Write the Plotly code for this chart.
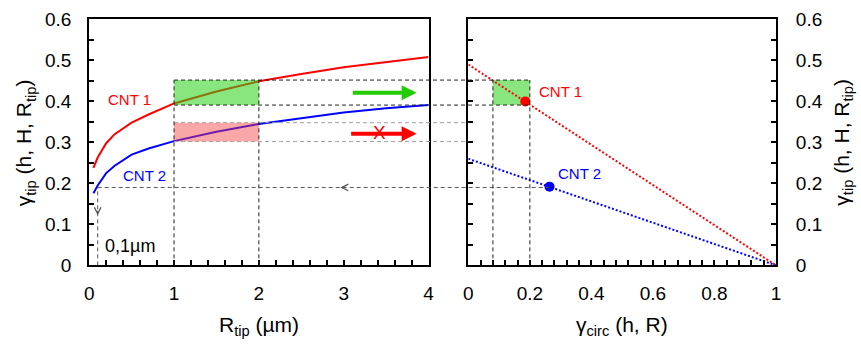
import plotly.graph_objects as go

# ---------------- data ----------------
r_tip = [0.05, 0.1, 0.2, 0.3, 0.5, 0.7, 1.0, 1.5, 2.0, 2.5, 3.0, 3.5, 4.0]
gamma_tip_cnt1 = [0.238, 0.263, 0.298, 0.320, 0.348, 0.368, 0.395, 0.424, 0.449, 0.467, 0.483, 0.496, 0.508]
gamma_tip_cnt2 = [0.176, 0.195, 0.225, 0.243, 0.270, 0.285, 0.303, 0.326, 0.345, 0.359, 0.373, 0.383, 0.391]

gamma_circ = [0.0, 1.0]
line_cnt1 = [0.49, 0.0]
line_cnt2 = [0.26, 0.0]

point_cnt1 = (0.185, 0.40)
point_cnt2 = (0.264, 0.192)

r_window = [1.0, 2.0]           # R_tip window (µm)
g_window_cnt1 = [0.391, 0.452]  # gamma_tip range CNT 1
g_window_cnt2 = [0.302, 0.348]  # gamma_tip range CNT 2
circ_window = [0.08, 0.20]      # gamma_circ window
r_small = 0.1
g_small = 0.19

x_ticks_left = [0, 1, 2, 3, 4]
x_ticks_right = [0, 0.2, 0.4, 0.6, 0.8, 1]
y_ticks = [0, 0.1, 0.2, 0.3, 0.4, 0.5, 0.6]

# ---------------- layout geometry ----------------
W, H = 861, 349
XD1 = [85.3 / W, 429.0 / W]
XD2 = [469.3 / W, 781.0 / W]
YD = [77.3 / H, 339.0 / H]
XR1 = [0, 4]
XR2 = [0, 1]
YR = [0, 0.6]

def px1(x):
    return XD1[0] + (x - XR1[0]) / (XR1[1] - XR1[0]) * (XD1[1] - XD1[0])

def px2(x):
    return XD2[0] + (x - XR2[0]) / (XR2[1] - XR2[0]) * (XD2[1] - XD2[0])

FONT = "Liberation Sans, Arial, sans-serif"
RED = "#ff0000"
BLUE = "#0000ff"

fig = go.Figure()

# curves
fig.add_trace(go.Scatter(x=r_tip, y=gamma_tip_cnt1, mode="lines",
                         line=dict(color=RED, width=2), xaxis="x", yaxis="y"))
fig.add_trace(go.Scatter(x=r_tip, y=gamma_tip_cnt2, mode="lines",
                         line=dict(color=BLUE, width=2), xaxis="x", yaxis="y"))
fig.add_trace(go.Scatter(x=gamma_circ, y=line_cnt1, mode="lines",
                         line=dict(color=RED, width=2, dash="2px,2px"), xaxis="x2", yaxis="y2"))
fig.add_trace(go.Scatter(x=gamma_circ, y=line_cnt2, mode="lines",
                         line=dict(color=BLUE, width=2, dash="2px,2px"), xaxis="x2", yaxis="y2"))
fig.add_trace(go.Scatter(x=[point_cnt1[0]], y=[point_cnt1[1]], mode="markers",
                         marker=dict(color=RED, size=10), xaxis="x2", yaxis="y2"))
fig.add_trace(go.Scatter(x=[point_cnt2[0]], y=[point_cnt2[1]], mode="markers",
                         marker=dict(color=BLUE, size=10), xaxis="x2", yaxis="y2"))

shapes = []
DASH = "4px,3px"
BLK = "#222222"
GRY = "#a0a0a0"
DGRY = "#555555"

# filled windows (drawn on top, semi-transparent)
shapes.append(dict(type="rect", xref="x", yref="y", x0=r_window[0], x1=r_window[1],
                   y0=g_window_cnt1[0], y1=g_window_cnt1[1],
                   fillcolor="rgba(40,210,20,0.55)", line=dict(width=0), layer="above"))
shapes.append(dict(type="rect", xref="x", yref="y", x0=r_window[0], x1=r_window[1],
                   y0=g_window_cnt2[0], y1=g_window_cnt2[1],
                   fillcolor="rgba(245,60,60,0.45)", line=dict(width=0), layer="above"))
shapes.append(dict(type="rect", xref="x2", yref="y2", x0=circ_window[0], x1=circ_window[1],
                   y0=g_window_cnt1[0], y1=g_window_cnt1[1],
                   fillcolor="rgba(40,210,20,0.55)", line=dict(width=0), layer="below"))

def hline(xa, xb, y, color):
    shapes.append(dict(type="line", xref="paper", yref="y", x0=xa, x1=xb, y0=y, y1=y,
                       line=dict(color=color, width=1, dash=DASH), layer="above"))

def vline(xref, x, ya, yb, color):
    shapes.append(dict(type="line", xref=xref, yref="y", x0=x, x1=x, y0=ya, y1=yb,
                       line=dict(color=color, width=1, dash=DASH), layer="above"))

# horizontal guides spanning both panels
for g in g_window_cnt1:
    hline(px1(r_window[0]), px2(circ_window[1]), g, BLK)
for g in g_window_cnt2:
    hline(px1(r_window[0]), px2(0), g, GRY)
hline(px1(r_small), px2(point_cnt2[0]), g_small, DGRY)

# vertical guides
for r in r_window:
    vline("x", r, 0, g_window_cnt1[1], BLK)
vline("x", r_small, 0, g_small, DGRY)
for c in circ_window:
    shapes.append(dict(type="line", xref="x2", yref="y2", x0=c, x1=c, y0=0, y1=g_window_cnt1[1],
                       line=dict(color=BLK, width=1, dash=DASH), layer="above"))

annotations = []

def text(x, y, s, color, size, xref="x", yref="y", angle=0):
    annotations.append(dict(x=x, y=y, xref=xref, yref=yref, text=s, showarrow=False,
                            font=dict(family=FONT, size=size, color=color),
                            xanchor="center", yanchor="middle", textangle=angle))

text(0.48, 0.405, "CNT 1", RED, 15)
text(0.653, 0.219, "CNT 2", BLUE, 15)
text(0.486, 0.048, "0,1µm", "black", 18)
text(0.299, 0.424, "CNT 1", RED, 15, xref="x2", yref="y2")
text(0.36, 0.224, "CNT 2", BLUE, 15, xref="x2", yref="y2")
text(3.42, 0.323, "X", RED, 19)

# big arrows
annotations.append(dict(x=3.86, y=0.421, ax=3.09, ay=0.421, xref="x", yref="y", axref="x", ayref="y",
                        text="", showarrow=True, arrowhead=2, arrowsize=0.75, arrowwidth=4,
                        arrowcolor="#22cc00"))
annotations.append(dict(x=3.86, y=0.321, ax=3.07, ay=0.321, xref="x", yref="y", axref="x", ayref="y",
                        text="", showarrow=True, arrowhead=2, arrowsize=0.75, arrowwidth=4,
                        arrowcolor=RED))
# small open arrowheads on guides
annotations.append(dict(x=2.96, y=g_small, ax=3.02, ay=g_small, xref="x", yref="y", axref="x", ayref="y",
                        text="", showarrow=True, arrowhead=5, arrowsize=1.3, arrowwidth=1,
                        arrowcolor=DGRY))
annotations.append(dict(x=r_small, y=0.122, ax=r_small, ay=0.137, xref="x", yref="y", axref="x", ayref="y",
                        text="", showarrow=True, arrowhead=5, arrowsize=1.3, arrowwidth=1,
                        arrowcolor=DGRY))

# axis titles
ytitle = "γ<sub>tip</sub> (h, H, R<sub>tip</sub>)"
text(20 / W, (H - 141) / H, ytitle, "black", 21, xref="paper", yref="paper", angle=-90)
text(848 / W, (H - 141) / H, ytitle, "black", 21, xref="paper", yref="paper", angle=-90)
text((XD1[0] + XD1[1]) / 2, (H - 336) / H, "R<sub>tip</sub> (µm)", "black", 21, xref="paper", yref="paper")
text((XD2[0] + XD2[1]) / 2, (H - 336) / H, "γ<sub>circ</sub> (h, R)", "black", 21, xref="paper", yref="paper")

axis_common = dict(showgrid=False, zeroline=False, showline=True, linecolor="black", linewidth=2,
                   ticks="inside", ticklen=5, tickwidth=1.5, tickcolor="black",
                   ticklabeloverflow="allow",
                   tickfont=dict(family=FONT, size=19, color="black"))

fig.update_layout(
    width=W, height=H,
    margin=dict(l=0, r=0, t=0, b=0),
    paper_bgcolor="white", plot_bgcolor="white",
    showlegend=False,
    xaxis=dict(domain=XD1, range=XR1, anchor="y", mirror=True,
               tickvals=x_ticks_left, ticklabelstandoff=10,
               minor=dict(dtick=0.2, ticks="inside", ticklen=5, tickwidth=1.5, tickcolor="black"),
               **axis_common),
    yaxis=dict(domain=YD, range=YR, anchor="x", mirror=True,
               tickvals=y_ticks, ticklabelstandoff=12,
               minor=dict(dtick=0.05, ticks="inside", ticklen=5, tickwidth=1.5, tickcolor="black"),
               **axis_common),
    xaxis2=dict(domain=XD2, range=XR2, anchor="y2", mirror=True,
                tickvals=x_ticks_right, ticklabelstandoff=10,
                minor=dict(dtick=0.04, ticks="inside", ticklen=5, tickwidth=1.5, tickcolor="black"),
                **axis_common),
    yaxis2=dict(domain=YD, range=YR, anchor="x2", side="right", mirror="ticks",
                tickvals=y_ticks, ticklabelstandoff=14,
                minor=dict(dtick=0.05, ticks="inside", ticklen=5, tickwidth=1.5, tickcolor="black"),
                **axis_common),
    shapes=shapes,
    annotations=annotations,
)

fig.write_html("out.html", config={"displayModeBar": False},
               post_script="document.body.style.margin='0';document.body.style.overflow='hidden';")
